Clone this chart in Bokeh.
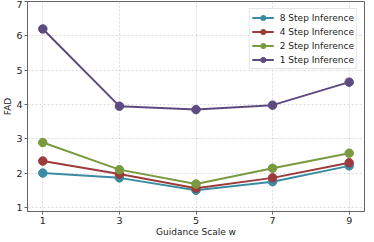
from bokeh.plotting import figure
from bokeh.models import Range1d, FixedTicker, Legend, LegendItem
from bokeh.embed import file_html
from bokeh.resources import INLINE

guidance = [1, 3, 5, 7, 9]
step8 = [2.00, 1.86, 1.50, 1.75, 2.21]
step4 = [2.35, 1.97, 1.56, 1.86, 2.30]
step2 = [2.89, 2.10, 1.68, 2.14, 2.58]
step1 = [6.20, 3.95, 3.85, 3.98, 4.65]
series_names = ["8 Step Inference", "4 Step Inference", "2 Step Inference", "1 Step Inference"]
colors = ["#3a8ca3", "#9c3b3b", "#7a9a3f", "#5d4a80"]
x_ticks = [1, 3, 5, 7, 9]
y_ticks = [1, 2, 3, 4, 5, 6, 7]

FONT = "DejaVu Sans"

p = figure(frame_width=337, frame_height=210, output_backend="svg", toolbar_location=None,
           x_range=Range1d(0.6, 9.4), y_range=Range1d(0.88, 7.0),
           min_border_left=0, min_border_right=1, min_border_top=1, min_border_bottom=0)

p.outline_line_color = "#666666"
p.outline_line_width = 1
p.background_fill_color = "white"
p.border_fill_color = "white"

for ax in (p.xaxis[0], p.yaxis[0]):
    ax.axis_line_color = "#666666"
    ax.major_tick_line_color = "#666666"
    ax.major_tick_out = 3
    ax.major_tick_in = 0
    ax.minor_tick_line_color = None
    ax.major_label_text_font = FONT
    ax.major_label_text_font_size = "9.5px"
    ax.major_label_text_color = "#222222"
    ax.axis_label_text_font = FONT
    ax.axis_label_text_font_size = "9px"
    ax.axis_label_text_font_style = "normal"
    ax.axis_label_text_color = "#222222"
    ax.major_label_standoff = 2
    ax.axis_label_standoff = 0

p.xaxis.ticker = FixedTicker(ticks=x_ticks)
p.yaxis.ticker = FixedTicker(ticks=y_ticks)
p.xaxis.axis_label = "Guidance Scale w"
p.yaxis.axis_label = "FAD"

p.xgrid.ticker = FixedTicker(ticks=x_ticks)
p.ygrid.ticker = FixedTicker(ticks=y_ticks)
for g in (p.xgrid[0], p.ygrid[0]):
    g.grid_line_color = "#cccccc"
    g.grid_line_dash = "2 2"
    g.grid_line_width = 0.7

items = []
for name, vals, c in zip(series_names, [step8, step4, step2, step1], colors):
    r1 = p.line(guidance, vals, line_color=c, line_width=2)
    r2 = p.scatter(guidance, vals, size=8.5, fill_color=c, line_color=c)
    items.append(LegendItem(label=name, renderers=[r1, r2]))

legend = Legend(items=items, location="top_right")
legend.label_text_font = FONT
legend.label_text_font_size = "9px"
legend.label_text_color = "#222222"
legend.glyph_width = 22
legend.glyph_height = 13
legend.label_height = 13
legend.label_standoff = 6
legend.spacing = 1
legend.padding = 2
legend.margin = 7
legend.border_line_color = "#cccccc"
legend.border_line_width = 1
legend.background_fill_alpha = 0.9
p.add_layout(legend)

open("out.html", "w").write(file_html(p, INLINE))
